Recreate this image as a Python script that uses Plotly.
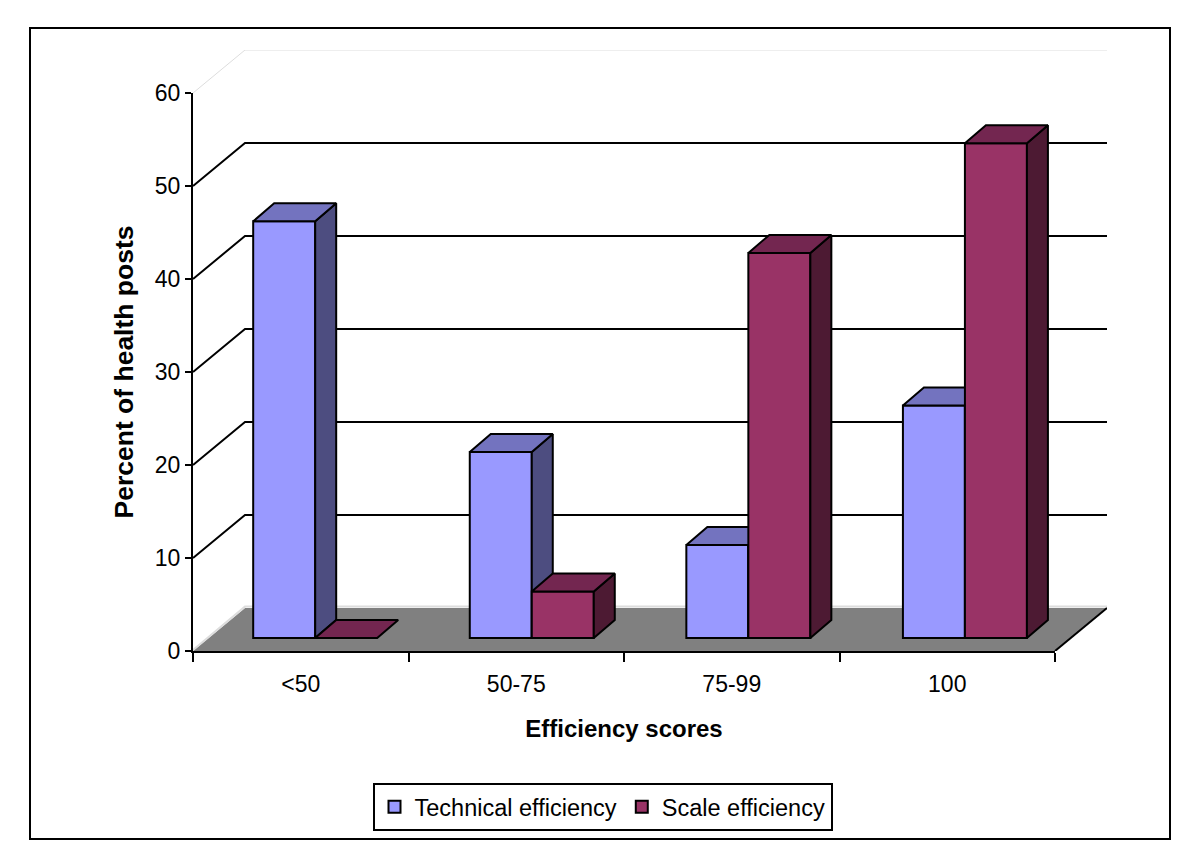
import plotly.graph_objects as go

categories = ["<50", "50-75", "75-99", "100"]
technical = [44.8, 20, 10, 25]
scale = [0, 5, 41.4, 53.2]
y_ticks = [0, 10, 20, 30, 40, 50, 60]

FONT = "Liberation Sans, Arial, sans-serif"
# the page body adds an 8 px margin round the figure
PAGE = 8
W, H = 1200 - 2 * PAGE, 861 - 2 * PAGE
# front plot rectangle, and the larger box that also holds the back walls
L, R, T, B = 193, 1055, 93, 651
R_BACK, T_BACK = 1107, 50
PX_X = (R - L) / 4
PX_Y = (B - T) / 60

# pseudo-3D depth in data units
wall_dx, wall_dy = 52 / PX_X, 43 / PX_Y
bar_dx, bar_dy = 21 / PX_X, 18 / PX_Y
bar_w = 62 / PX_X
bar_base = 13 / PX_Y
group_start, group_pitch = 0.567, 1.005


def poly(xs, ys, color, axes, line="black", lw=2):
    return go.Scatter(x=xs + xs[:1], y=ys + ys[:1], mode="lines", fill="toself",
                      fillcolor=color, line=dict(color=line, width=lw),
                      xaxis=axes[0], yaxis=axes[1], showlegend=False,
                      hoverinfo="skip", cliponaxis=False)


def series(values, name, front, side, top, shift, axes):
    xs = [group_start + i * group_pitch + shift for i in range(len(values))]
    out = [go.Bar(x=xs, y=values, base=bar_base, width=bar_w, name=name,
                  marker=dict(color=front, line=dict(color="black", width=2)),
                  xaxis=axes[0], yaxis=axes[1], cliponaxis=False)]
    for x, v in zip(xs, values):
        x0, x1 = x - bar_w / 2, x + bar_w / 2
        t = bar_base + v
        if v > 0:
            out.append(poly([x1, x1 + bar_dx, x1 + bar_dx, x1],
                            [bar_base, bar_base + bar_dy, t + bar_dy, t], side, axes))
        out.append(poly([x0, x0 + bar_dx, x1 + bar_dx, x1],
                        [t, t + bar_dy, t + bar_dy, t], top, axes))
    return out


def wall_line(xs, ys, color, width):
    return go.Scatter(x=xs, y=ys, mode="lines", line=dict(color=color, width=width),
                      xaxis="x", yaxis="y", showlegend=False, hoverinfo="skip", cliponaxis=False)


traces = []
n = len(categories)
# floor
traces.append(poly([0, wall_dx, n + wall_dx, n], [0, wall_dy, wall_dy, 0],
                   "#808080", ("x", "y"), line="#808080", lw=0))
# pale wall edges
traces.append(wall_line([0, wall_dx, n + wall_dx], [0.1, wall_dy + 0.15, wall_dy + 0.15], "#dddddd", 2))
# right floor edge
traces.append(wall_line([n, n + wall_dx], [0, wall_dy], "black", 2))
# gridlines running along side wall and back wall
for v in y_ticks[1:]:
    traces.append(wall_line([0, wall_dx, n + wall_dx], [v, v + wall_dy, v + wall_dy],
                            "#dddddd" if v == 60 else "black", 1 if v == 60 else 2))

traces += series(technical, "Technical efficiency", "#9999FF", "#4D4D80", "#7373BF",
                 -bar_w / 2, ("x3", "y3"))
traces += series(scale, "Scale efficiency", "#993366", "#4D1A33", "#732650",
                 bar_w / 2, ("x4", "y4"))
# a trace on the visible axes keeps them drawn
traces.append(go.Scatter(x=[None], y=[None], xaxis="x2", yaxis="y2", showlegend=False, hoverinfo="skip"))

fig = go.Figure(traces)

X_FRAC = (R - L) / (R_BACK - L)
Y_FRAC = (B - T) / (B - T_BACK)


def px(x):
    return (x - L) / (R_BACK - L)


def py(y):
    return (B - y) / (B - T_BACK)


hidden = dict(range=[0, n], visible=False, fixedrange=True)
hiddeny = dict(range=[0, 60], visible=False, fixedrange=True)

fig.update_layout(
    width=W, height=H, autosize=False,
    margin=dict(l=L - PAGE, r=W - (R_BACK - PAGE), t=T_BACK - PAGE, b=H - (B - PAGE), autoexpand=False),
    paper_bgcolor="white", plot_bgcolor="rgba(0,0,0,0)",
    font=dict(family=FONT, size=23, color="black"),
    barmode="overlay",
    # back box: floor and walls
    xaxis=dict(domain=[0, 1], range=[0, (R_BACK - L) / PX_X], visible=False, fixedrange=True),
    yaxis=dict(domain=[0, 1], range=[0, (B - T_BACK) / PX_Y], visible=False, fixedrange=True),
    # front box: the visible axes
    xaxis2=dict(domain=[0, X_FRAC], anchor="y2", range=[0, n],
                tickvals=[i + 0.5 for i in range(n)], ticktext=categories,
                ticks="", showgrid=False, zeroline=False, showline=True, linecolor="black",
                linewidth=2, tickfont=dict(size=23), ticklabelstandoff=11,
                minor=dict(tickvals=list(range(n + 1)), ticks="outside", ticklen=9,
                           tickcolor="black", tickwidth=2, showgrid=False),
                title=dict(text="<b>Efficiency scores</b>", font=dict(size=24), standoff=25)),
    yaxis2=dict(domain=[0, Y_FRAC], anchor="x2", range=[0, 60], tickvals=y_ticks,
                ticks="outside", ticklen=6, tickcolor="black",
                tickwidth=2, showgrid=False, zeroline=False, showline=True, linecolor="black",
                linewidth=2, tickfont=dict(size=23),
                title=dict(text="<b>Percent of health posts</b>", font=dict(size=26.5), standoff=14)),
    xaxis3=dict(overlaying="x2", anchor="y3", **hidden), yaxis3=dict(overlaying="y2", anchor="x3", **hiddeny),
    xaxis4=dict(overlaying="x2", anchor="y4", **hidden), yaxis4=dict(overlaying="y2", anchor="x4", **hiddeny),
    legend=dict(orientation="h", x=px(602.5), xanchor="center", y=py(783), yanchor="top",
                bordercolor="black", borderwidth=2, bgcolor="white", font=dict(size=23.5),
                traceorder="normal"),
    shapes=[dict(type="rect", xref="paper", yref="paper", x0=px(30), x1=px(1170),
                 y0=py(839), y1=py(28), line=dict(color="black", width=2),
                 fillcolor="rgba(0,0,0,0)", layer="below")],
)

fig.write_html("out.html")
